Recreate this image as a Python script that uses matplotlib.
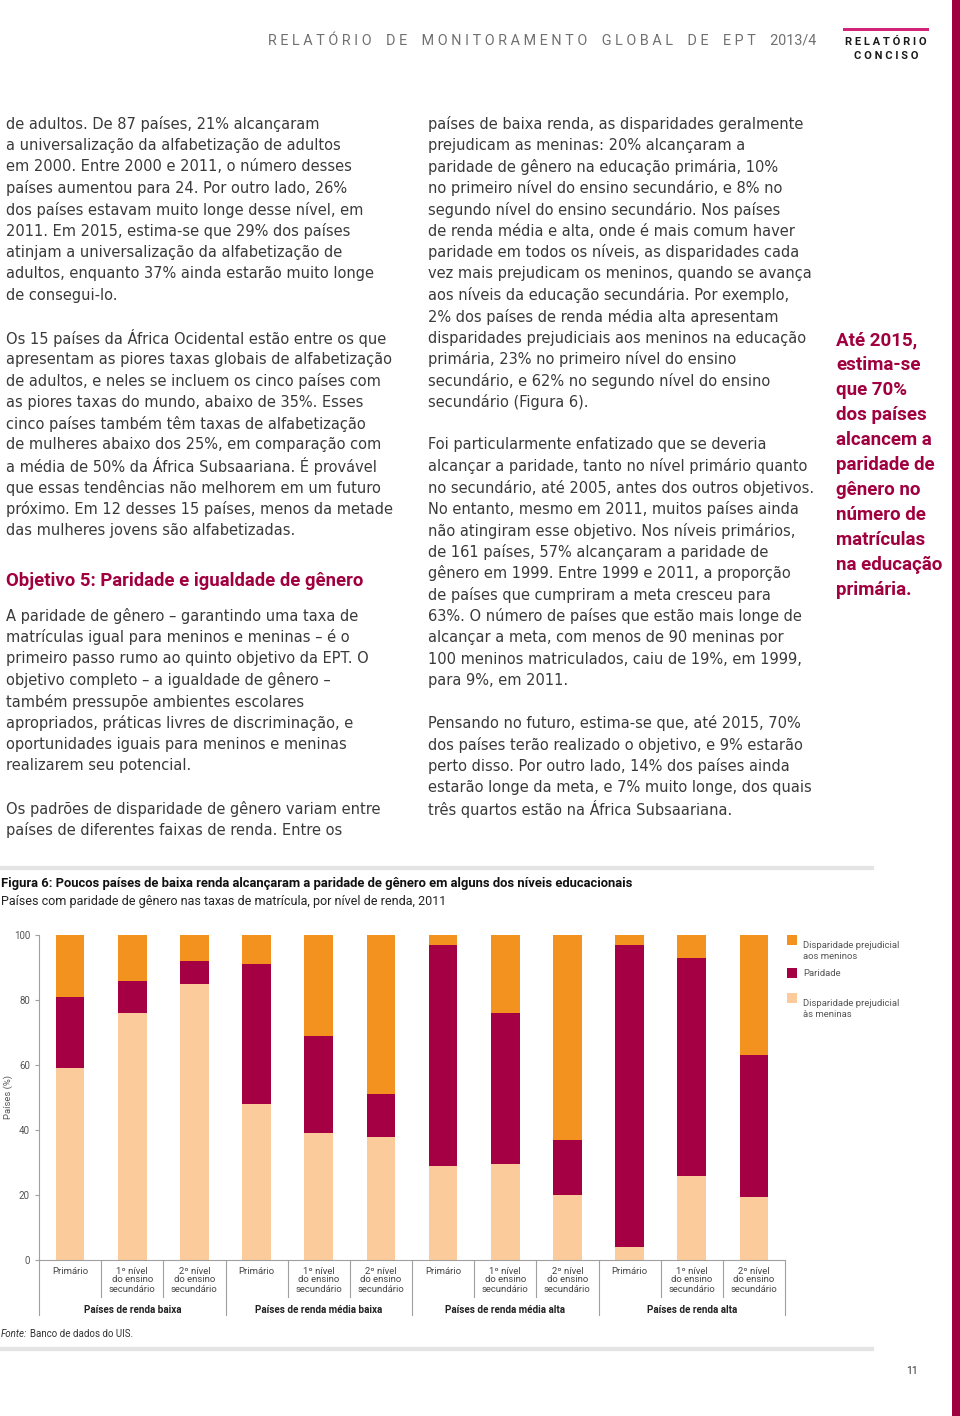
import matplotlib
matplotlib.use("Agg")
import matplotlib.pyplot as plt
from matplotlib.patches import Rectangle
from matplotlib.lines import Line2D

W, H = 960, 1416

# --- chart data (percent of countries, 2011) ---
groups = ["Países de renda baixa", "Países de renda média baixa",
          "Países de renda média alta", "Países de renda alta"]
levels = ["Primário", "1º nível\ndo ensino\nsecundário", "2º nível\ndo ensino\nsecundário"]
girls_disadv = [59, 76, 85, 48, 39, 38, 29, 29.5, 20, 4, 26, 19.5]
parity = [22, 10, 7, 43, 30, 13, 68, 46.5, 17, 93, 67, 43.5]
boys_disadv = [19, 14, 8, 9, 31, 49, 3, 24, 63, 3, 7, 37]
series_names = ["Disparidade prejudicial\naos meninos", "Paridade",
                "Disparidade prejudicial\nàs meninas"]

C_BOYS = "#F4921F"
C_PAR = "#A50044"
C_GIRLS = "#FBCB9C"
C_TEXT = "#3a3a3a"
C_RED = "#A0003F"

left_col = [
    "de adultos. De 87 países, 21% alcançaram",
    "a universalização da alfabetização de adultos",
    "em 2000. Entre 2000 e 2011, o número desses",
    "países aumentou para 24. Por outro lado, 26%",
    "dos países estavam muito longe desse nível, em",
    "2011. Em 2015, estima-se que 29% dos países",
    "atinjam a universalização da alfabetização de",
    "adultos, enquanto 37% ainda estarão muito longe",
    "de consegui-lo.",
    "",
    "Os 15 países da África Ocidental estão entre os que",
    "apresentam as piores taxas globais de alfabetização",
    "de adultos, e neles se incluem os cinco países com",
    "as piores taxas do mundo, abaixo de 35%. Esses",
    "cinco países também têm taxas de alfabetização",
    "de mulheres abaixo dos 25%, em comparação com",
    "a média de 50% da África Subsaariana. É provável",
    "que essas tendências não melhorem em um futuro",
    "próximo. Em 12 desses 15 países, menos da metade",
    "das mulheres jovens são alfabetizadas.",
]
left_col2 = [
    "A paridade de gênero – garantindo uma taxa de",
    "matrículas igual para meninos e meninas – é o",
    "primeiro passo rumo ao quinto objetivo da EPT. O",
    "objetivo completo – a igualdade de gênero –",
    "também pressupõe ambientes escolares",
    "apropriados, práticas livres de discriminação, e",
    "oportunidades iguais para meninos e meninas",
    "realizarem seu potencial.",
    "",
    "Os padrões de disparidade de gênero variam entre",
    "países de diferentes faixas de renda. Entre os",
]
right_col = [
    "países de baixa renda, as disparidades geralmente",
    "prejudicam as meninas: 20% alcançaram a",
    "paridade de gênero na educação primária, 10%",
    "no primeiro nível do ensino secundário, e 8% no",
    "segundo nível do ensino secundário. Nos países",
    "de renda média e alta, onde é mais comum haver",
    "paridade em todos os níveis, as disparidades cada",
    "vez mais prejudicam os meninos, quando se avança",
    "aos níveis da educação secundária. Por exemplo,",
    "2% dos países de renda média alta apresentam",
    "disparidades prejudiciais aos meninos na educação",
    "primária, 23% no primeiro nível do ensino",
    "secundário, e 62% no segundo nível do ensino",
    "secundário (Figura 6).",
    "",
    "Foi particularmente enfatizado que se deveria",
    "alcançar a paridade, tanto no nível primário quanto",
    "no secundário, até 2005, antes dos outros objetivos.",
    "No entanto, mesmo em 2011, muitos países ainda",
    "não atingiram esse objetivo. Nos níveis primários,",
    "de 161 países, 57% alcançaram a paridade de",
    "gênero em 1999. Entre 1999 e 2011, a proporção",
    "de países que cumpriram a meta cresceu para",
    "63%. O número de países que estão mais longe de",
    "alcançar a meta, com menos de 90 meninas por",
    "100 meninos matriculados, caiu de 19%, em 1999,",
    "para 9%, em 2011.",
    "",
    "Pensando no futuro, estima-se que, até 2015, 70%",
    "dos países terão realizado o objetivo, e 9% estarão",
    "perto disso. Por outro lado, 14% dos países ainda",
    "estarão longe da meta, e 7% muito longe, dos quais",
    "três quartos estão na África Subsaariana.",
]
sidebar = ["Até 2015,", "estima-se", "que 70%", "dos países", "alcancem a",
           "paridade de", "gênero no", "número de", "matrículas",
           "na educação", "primária."]

plt.rcParams['font.family'] = ['Roboto', 'DejaVu Sans']
fig = plt.figure(figsize=(W / 100, H / 100), dpi=100)


def fx(x):
    return x / W


def fy(y):
    return 1 - y / H


def put(x, y, s, **kw):
    kw.setdefault('va', 'center')
    kw.setdefault('ha', 'left')
    fig.text(fx(x), fy(y), s, **kw)


# header
put(816, 42, "R E L A T Ó R I O    D E    M O N I T O R A M E N T O    G L O B A L    D E    E P T    2013/4",
    ha='right', fontsize=10.35, color="#707070")
fig.add_artist(Rectangle((fx(843), fy(31)), 86 / W, 3 / H, transform=fig.transFigure,
                         color="#D3227A", lw=0))
put(886, 42, "R E L A T Ó R I O", ha='center', fontsize=8, fontweight='bold', color="#1a1a1a")
put(886, 56, "C O N C I S O", ha='center', fontsize=8, fontweight='bold', color="#1a1a1a")
fig.add_artist(Rectangle((fx(952), 0), 8 / W, 1, transform=fig.transFigure, color=C_RED, lw=0))

# body text
LH = 21.4
body_kw = dict(fontsize=10.55, color=C_TEXT, fontweight='normal',
               family=['DejaVu Sans'])
for i, s in enumerate(left_col):
    put(6, 124 + i * LH, s, **body_kw)
put(6, 581, "Objetivo 5: Paridade e igualdade de gênero", fontsize=13.3, fontweight='bold', color=C_RED)
for i, s in enumerate(left_col2):
    put(6, 616 + i * LH, s, **body_kw)
for i, s in enumerate(right_col):
    put(428, 124 + i * LH, s, **body_kw)
for i, s in enumerate(sidebar):
    put(836, 340 + i * 25, s, fontsize=13.5, fontweight='bold', color=C_RED)

# figure box
fig.add_artist(Line2D([0, fx(872)], [fy(868), fy(868)], lw=3, color="#e4e4e4"))
fig.add_artist(Line2D([0, fx(872)], [fy(1349), fy(1349)], lw=3, color="#e4e4e4"))
put(1, 883, "Figura 6: Poucos países de baixa renda alcançaram a paridade de gênero em alguns dos níveis educacionais",
    fontsize=9.4, fontweight='bold', color="#111111")
put(1, 901, "Países com paridade de gênero nas taxas de matrícula, por nível de renda, 2011",
    fontsize=9.0, color="#222222")
put(1, 1334, "Fonte:", fontsize=7, style='italic', color="#333333")
put(30, 1334, "Banco de dados do UIS.", fontsize=7, color="#333333")
put(912, 1371, "11", ha='center', fontsize=7.5, color="#333333")

# chart
ax = fig.add_axes([fx(39), fy(1260), 746 / W, 325 / H])
x = list(range(len(girls_disadv)))
bottom2 = [g + p for g, p in zip(girls_disadv, parity)]
ax.bar(x, girls_disadv, width=0.46, color=C_GIRLS)
ax.bar(x, parity, width=0.46, bottom=girls_disadv, color=C_PAR)
ax.bar(x, boys_disadv, width=0.46, bottom=bottom2, color=C_BOYS)
ax.set_xlim(-0.5, len(x) - 0.5)
ax.set_ylim(0, 100)
for sp in ['top', 'right']:
    ax.spines[sp].set_visible(False)
for sp in ['left', 'bottom']:
    ax.spines[sp].set_color("#a0a0a0")
    ax.spines[sp].set_linewidth(0.8)
ax.set_xticks([])
ax.set_yticks([0, 20, 40, 60, 80, 100])
ax.tick_params(axis='y', labelsize=7, colors="#a0a0a0", labelcolor="#555555", length=3, width=0.8)

for i in range(len(x)):
    ax.text(i, -2.0, levels[i % 3], ha='center', va='top', fontsize=6.8,
            color="#444444", linespacing=1.0, clip_on=False)
for i in range(len(x) + 1):
    xb = i - 0.5
    yb = -17 if i % 3 == 0 else -11.4
    ax.plot([xb, xb], [0, yb], color="#a0a0a0", lw=0.8, clip_on=False)
for g, name in enumerate(groups):
    ax.text(3 * g + 1, -15.5, name, ha='center', va='center', fontsize=7.1,
            fontweight='bold', color="#222222", clip_on=False)
put(8, 1097, "Países (%)", ha='center', rotation=90, fontsize=6.8, color="#555555")

# legend
leg_y = [940, 973, 998]
leg_c = [C_BOYS, C_PAR, C_GIRLS]
for yy, c, name in zip(leg_y, leg_c, series_names):
    fig.add_artist(Rectangle((fx(787), fy(yy + 5)), 10 / W, 10 / H, transform=fig.transFigure,
                             color=c, lw=0))
    put(803, yy + 1, name, va='top' if '\n' in name else 'center', fontsize=6.8,
        color="#555555", linespacing=1.3)

fig.savefig("out.png", dpi=100)
